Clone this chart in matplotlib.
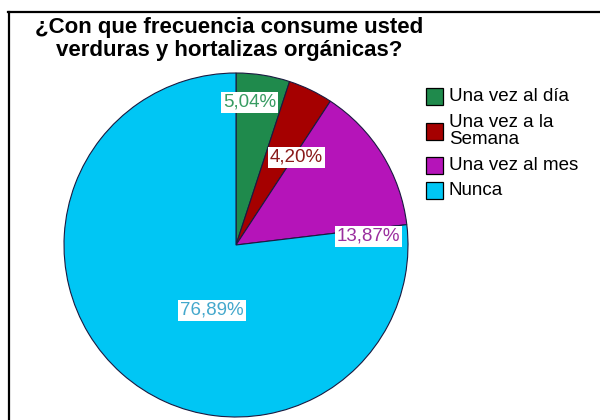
import matplotlib
matplotlib.use("Agg")
import matplotlib.pyplot as plt
from matplotlib.lines import Line2D
from matplotlib.patches import Rectangle

plt.rcParams['font.family'] = ['Liberation Sans', 'DejaVu Sans']

categorias = ['Una vez al día', 'Una vez a la\nSemana', 'Una vez al mes', 'Nunca']
porcentajes = [5.04, 4.20, 13.87, 76.89]
etiquetas = ['5,04%', '4,20%', '13,87%', '76,89%']
colores = ['#1f8a4c', '#a50000', '#b514b9', '#00c6f4']
colores_txt = ['#389c62', '#8a1a1a', '#9a2e9e', '#44a8cc']
# label positions, in units of the pie radius
pos_etq = [(0.08, 0.83), (0.35, 0.51), (0.77, 0.05), (-0.14, -0.38)]

fig = plt.figure(figsize=(6, 4.2), dpi=100)
ax = fig.add_axes([64/600, 3/420, 344/600, 344/420])
wedges, _ = ax.pie(porcentajes, colors=colores, startangle=90, counterclock=False,
                   radius=1, wedgeprops=dict(edgecolor='#1a1a40', linewidth=0.8))
ax.set_xlim(-1, 1)
ax.set_ylim(-1, 1)
ax.set_aspect('equal')
ax.axis('off')

for (x, y), t, c in zip(pos_etq, etiquetas, colores_txt):
    ax.text(x, y, t, ha='center', va='center', fontsize=13.5, color=c,
            bbox=dict(facecolor='white', edgecolor='none', pad=1.5))

# overlay in pixel units for title, legend and frame
ov = fig.add_axes([0, 0, 1, 1], zorder=5)
ov.set_xlim(0, 600)
ov.set_ylim(420, 0)
ov.axis('off')

ov.text(229, 39, '¿Con que frecuencia consume usted\nverduras y hortalizas orgánicas?',
        ha='center', va='center', fontsize=16, fontweight='bold', linespacing=1.12)

# legend
y = 84
for cat, col in zip(categorias, colores):
    n = cat.count('\n') + 1
    h = n * 19 + 6
    yc = y + h / 2
    ov.add_patch(Rectangle((426, yc - 8.5), 17, 17, facecolor=col, edgecolor='black', lw=0.9))
    ov.text(449, yc, cat, ha='left', va='center', fontsize=13.5, linespacing=0.95)
    y += h

# frame lines (top and left)
ov.add_line(Line2D([8, 600], [11.5, 11.5], color='black', lw=1.6))
ov.add_line(Line2D([8.5, 8.5], [11.5, 420], color='black', lw=1.6))

fig.savefig('out.png', dpi=100)
